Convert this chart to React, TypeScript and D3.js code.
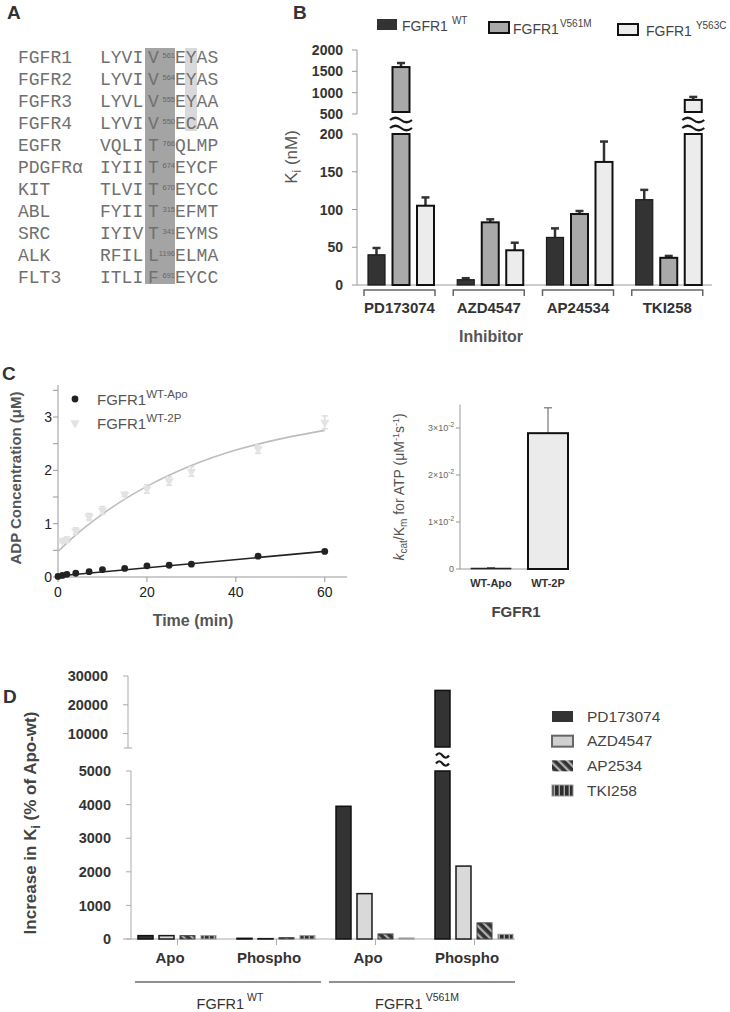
import React from 'react';
import * as d3 from 'd3';

const FONT = "'Liberation Sans', Arial, Helvetica, sans-serif";
const MONO = "'Liberation Mono', 'Courier New', monospace";

// ---------------- Panel A: sequence alignment
const kinases = ['FGFR1', 'FGFR2', 'FGFR3', 'FGFR4', 'EGFR', 'PDGFRα', 'KIT', 'ABL', 'SRC', 'ALK', 'FLT3'];
const seqPrefix = ['LYVI', 'LYVI', 'LYVL', 'LYVI', 'VQLI', 'IYII', 'TLVI', 'FYII', 'IYIV', 'RFIL', 'ITLI'];
const gatekeeper = ['V', 'V', 'V', 'V', 'T', 'T', 'T', 'T', 'T', 'L', 'F'];
const gatekeeperPos = ['561', '564', '555', '550', '766', '674', '670', '315', '341', '1196', '691'];
const seqSuffix = ['EYAS', 'EYAS', 'EYAA', 'ECAA', 'QLMP', 'EYCF', 'EYCC', 'EFMT', 'EYMS', 'ELMA', 'EYCC'];

// ---------------- Panel B: Ki values (nM)
const inhibitorsB = ['PD173074', 'AZD4547', 'AP24534', 'TKI258'];
const seriesB = ['WT', 'V561M', 'Y563C'];
const kiWT = [40, 7, 63, 113];
const kiWTErr = [9, 2, 12, 13];
const kiV561M = [1600, 83, 94, 36];
const kiV561MErr = [95, 4, 4, 2.5];
const kiY563C = [105, 46, 163, 830];
const kiY563CErr = [11, 10, 27, 70];
const kiTicksLower = [0, 50, 100, 150, 200];
const kiTicksUpper = [500, 1000, 1500, 2000];

// ---------------- Panel C left: ADP time course
const timeApo = [0, 1, 2, 4, 7, 10, 15, 20, 25, 30, 45, 60];
const adpApo = [0.01, 0.03, 0.05, 0.07, 0.1, 0.14, 0.16, 0.21, 0.22, 0.24, 0.39, 0.48];
const fitApoTime = [0, 60];
const fitApoAdp = [0.02, 0.48];
const time2P = [1, 2, 4, 7, 10, 15, 20, 25, 30, 45, 60];
const adp2P = [0.68, 0.7, 0.86, 1.13, 1.25, 1.55, 1.65, 1.8, 1.98, 2.4, 2.9];
const adp2PErr = [0.04, 0.05, 0.06, 0.06, 0.07, 0.04, 0.08, 0.08, 0.09, 0.08, 0.12];
const fit2PTime = [0, 5, 10, 15, 20, 30, 40, 50, 60];
const fit2PAdp = [0.48, 0.86, 1.18, 1.46, 1.7, 2.09, 2.38, 2.59, 2.75];
const adpTicks = [0, 0.5, 1, 1.5, 2, 2.5, 3, 3.5];
const timeTicks = [0, 20, 40, 60];

// ---------------- Panel C right: kcat/Km
const groupsC = ['WT-Apo', 'WT-2P'];
const kcatKm = [0.0002, 0.0289];
const kcatKmErr = [0.0001, 0.0054];
const kcatTicks = [0, 0.01, 0.02, 0.03];
const kcatTickMant = ['0', '1×10', '2×10', '3×10'];

// ---------------- Panel D: Increase in Ki
const groupsD = ['WT-Apo', 'WT-Phospho', 'V561M-Apo', 'V561M-Phospho'];
const groupLabelsD = ['Apo', 'Phospho', 'Apo', 'Phospho'];
const inhibitorsD = ['PD173074', 'AZD4547', 'AP2534', 'TKI258'];
const incPD = [100, 20, 3950, 25000];
const incAZD = [100, 10, 1350, 2170];
const incAP = [100, 40, 150, 480];
const incTKI = [100, 100, 30, 140];
const incTicksLower = [0, 1000, 2000, 3000, 4000, 5000];
const incTicksUpper = [10000, 20000, 30000];
const genotypesD = ['WT', 'V561M'];

function Waves({ cx, cy, w, gap }: { cx: number; cy: number; w: number; gap: number }) {
  const x0 = cx - w / 2;
  const d = (y: number) => `M${x0},${y} q${w / 4},-4.5 ${w / 2},0 t${w / 2},0`;
  return (
    <g fill="none" stroke="#1a1a1a" strokeWidth={2.2}>
      <path d={d(cy - gap)} />
      <path d={d(cy + gap)} />
    </g>
  );
}

function PanelA() {
  const row = d3.scalePoint<string>().domain(kinases).range([63, 283]);
  const first = row(kinases[0])!;
  const last = row(kinases[kinases.length - 1])!;
  return (
    <g>
      <text x={7} y={19} fontWeight="bold" fontSize={19} fill="#333" fontFamily={FONT}>A</text>
      <rect x={145} y={first - 15} width={30} height={last - first + 16} fill="#a4a4a4" />
      <rect x={185} y={first - 15} width={12} height={row('FGFR4')! - first + 17} fill="#d9d9d9" />
      {kinases.map((k, i) => (
        <g key={k} fontFamily={MONO} fill="#707070">
          <text x={18} y={row(k)} fontSize={18}>{k}</text>
          <text x={100} y={row(k)} fontSize={18}>{seqPrefix[i]}</text>
          <text x={148} y={row(k)} fontSize={18}>{gatekeeper[i]}</text>
          <text x={175} y={row(k)! - 5} fontSize={7.5} textAnchor="end" fill="#666" fontFamily={FONT}>{gatekeeperPos[i]}</text>
          <text x={175} y={row(k)} fontSize={18}>{seqSuffix[i]}</text>
        </g>
      ))}
    </g>
  );
}

function PanelB() {
  const x0 = d3.scaleBand<string>().domain(inhibitorsB).range([357, 714]);
  const x1 = d3.scaleBand<string>().domain(seriesB).range([11, 77]).paddingInner(0.306);
  const yL = d3.scaleLinear().domain([0, 200]).range([285, 134]);
  const yU = d3.scaleLinear().domain([500, 2000]).range([114, 50]);
  const yv = (v: number) => (v <= 200 ? yL(v) : yU(v));
  const vals = [kiWT, kiV561M, kiY563C];
  const errs = [kiWTErr, kiV561MErr, kiY563CErr];
  const styles = [
    { fill: '#333', stroke: '#1a1a1a', sw: 1.2 },
    { fill: '#a9a9a9', stroke: '#111', sw: 2 },
    { fill: '#ececec', stroke: '#111', sw: 2 },
  ];
  const legendX = [377, 489, 618];
  const legendTextX = [402, 513, 646];
  const legendY = [19, 22, 24];
  const bw = x1.bandwidth();
  return (
    <g fontFamily={FONT}>
      <text x={293} y={19} fontWeight="bold" fontSize={19} fill="#333">B</text>
      {seriesB.map((s, j) => (
        <g key={s}>
          <rect x={legendX[j]} y={legendY[j]} width={20} height={11} fill={styles[j].fill} stroke={j === 0 ? 'none' : '#111'} strokeWidth={2} />
          <text x={legendTextX[j]} y={legendY[j] + 12} fontSize={14} fill="#444">
            FGFR1<tspan dx={j === 1 ? 1 : 4} dy={-7} fontSize={10}>{s}</tspan>
          </text>
        </g>
      ))}
      {/* axes */}
      <line x1={357} x2={357} y1={yL(0)} y2={yL(200)} stroke="#999" />
      <line x1={357} x2={357} y1={yU(500)} y2={yU(2000)} stroke="#999" />
      {kiTicksLower.map((t) => (
        <g key={'l' + t}>
          <line x1={352} x2={357} y1={yL(t)} y2={yL(t)} stroke="#999" />
          <text x={343} y={yL(t)} dy="0.36em" textAnchor="end" fontWeight="bold" fontSize={14} fill="#333">{t}</text>
        </g>
      ))}
      {kiTicksUpper.map((t) => (
        <g key={'u' + t}>
          <line x1={352} x2={357} y1={yU(t)} y2={yU(t)} stroke="#999" />
          <text x={343} y={yU(t)} dy="0.36em" textAnchor="end" fontWeight="bold" fontSize={14} fill="#333">{t}</text>
        </g>
      ))}
      <line x1={357} x2={712} y1={yL(0)} y2={yL(0)} stroke="#999" />
      <text transform={`translate(297,157) rotate(-90)`} textAnchor="middle" fontSize={17} fill="#555">
        K<tspan dy={4} fontSize={12}>i</tspan><tspan dy={-4}> (nM)</tspan>
      </text>
      {inhibitorsB.map((inh, i) => {
        const gx = x0(inh)!;
        return (
          <g key={inh}>
            {seriesB.map((s, j) => {
              const v = vals[j][i];
              const e = errs[j][i];
              const bx = gx + x1(s)!;
              const st = styles[j];
              const cx = bx + bw / 2;
              return (
                <g key={s}>
                  <line x1={cx} x2={cx} y1={yv(v)} y2={yv(v + e)} stroke="#333" strokeWidth={2.5} />
                  <line x1={cx - 4} x2={cx + 4} y1={yv(v + e)} y2={yv(v + e)} stroke="#333" strokeWidth={2.5} />
                  {v <= 200 ? (
                    <rect x={bx} y={yL(v)} width={bw} height={yL(0) - yL(v)} fill={st.fill} stroke={st.stroke} strokeWidth={st.sw} />
                  ) : (
                    <g>
                      <rect x={bx} y={yL(200)} width={bw} height={yL(0) - yL(200)} fill={st.fill} stroke={st.stroke} strokeWidth={st.sw} />
                      <rect x={bx} y={yU(v)} width={bw} height={yU(500) - 2 - yU(v)} fill={st.fill} stroke={st.stroke} strokeWidth={st.sw} />
                      <Waves cx={cx} cy={(yU(500) + yL(200)) / 2} w={22} gap={4} />
                    </g>
                  )}
                </g>
              );
            })}
            <path d={`M${gx + 7},296 V290 H${gx + 78} V296`} fill="none" stroke="#666" strokeWidth={1.5} />
            <text x={gx + 42.5} y={313} textAnchor="middle" fontWeight="bold" fontSize={15} fill="#333">{inh}</text>
          </g>
        );
      })}
      <text x={491} y={342} textAnchor="middle" fontWeight="bold" fontSize={16} fill="#555">Inhibitor</text>
    </g>
  );
}

function PanelCLeft() {
  const x = d3.scaleLinear().domain([0, 65]).range([58, 347]);
  const y = d3.scaleLinear().domain([0, 3.6]).range([577, 385]);
  const line = d3.line<[number, number]>().x((d) => x(d[0])).y((d) => y(d[1])).curve(d3.curveMonotoneX);
  const fitApo = fitApoTime.map((t, i) => [t, fitApoAdp[i]] as [number, number]);
  const fit2P = fit2PTime.map((t, i) => [t, fit2PAdp[i]] as [number, number]);
  const tri = d3.symbol().type(d3.symbolTriangle).size(38)();
  return (
    <g fontFamily={FONT}>
      <text x={2} y={380} fontWeight="bold" fontSize={19} fill="#333">C</text>
      <line x1={x(0)} x2={x(0)} y1={y(0)} y2={y(3.6)} stroke="#999" />
      <line x1={x(0)} x2={x(65)} y1={y(0)} y2={y(0)} stroke="#999" />
      {adpTicks.map((t) => (
        <g key={t}>
          <line x1={x(0) - 5} x2={x(0)} y1={y(t)} y2={y(t)} stroke="#999" />
          {Number.isInteger(t) && (
            <text x={x(0) - 6} y={y(t)} dy="0.36em" textAnchor="end" fontSize={14} fill="#222">{t}</text>
          )}
        </g>
      ))}
      {timeTicks.map((t) => (
        <g key={t}>
          <line x1={x(t)} x2={x(t)} y1={y(0)} y2={y(0) + 5} stroke="#999" />
          <text x={x(t)} y={597} textAnchor="middle" fontSize={14} fill="#222">{t}</text>
        </g>
      ))}
      <path d={line(fit2P) || ''} fill="none" stroke="#bdbdbd" strokeWidth={1.6} />
      {time2P.map((t, i) => (
        <g key={'e' + t} stroke="#dcdcdc" strokeWidth={1.5}>
          <line x1={x(t)} x2={x(t)} y1={y(adp2P[i] - adp2PErr[i])} y2={y(adp2P[i] + adp2PErr[i])} />
          <line x1={x(t) - 3} x2={x(t) + 3} y1={y(adp2P[i] - adp2PErr[i])} y2={y(adp2P[i] - adp2PErr[i])} />
          <line x1={x(t) - 3} x2={x(t) + 3} y1={y(adp2P[i] + adp2PErr[i])} y2={y(adp2P[i] + adp2PErr[i])} />
        </g>
      ))}
      {time2P.map((t, i) => (
        <path key={'t' + t} d={tri || ''} transform={`translate(${x(t)},${y(adp2P[i])}) rotate(180)`} fill="#e3e3e3" />
      ))}
      <path d={line(fitApo) || ''} fill="none" stroke="#222" strokeWidth={1.6} />
      {timeApo.map((t, i) => (
        <circle key={'c' + t} cx={x(t)} cy={y(adpApo[i])} r={3.4} fill="#222" />
      ))}
      {/* legend */}
      <circle cx={75} cy={399} r={3.4} fill="#222" />
      <text x={97} y={405} fontSize={15} fill="#555">FGFR1<tspan dy={-7} fontSize={11.5}>WT-Apo</tspan></text>
      <path d={tri || ''} transform="translate(75,423) rotate(180)" fill="#e3e3e3" />
      <text x={97} y={429} fontSize={15} fill="#555">FGFR1<tspan dy={-7} fontSize={11.5}>WT-2P</tspan></text>
      <text transform="translate(21,478) rotate(-90)" textAnchor="middle" fontWeight="bold" fontSize={15} fill="#555">ADP Concentration (μM)</text>
      <text x={193} y={626} textAnchor="middle" fontWeight="bold" fontSize={16} fill="#555">Time (min)</text>
    </g>
  );
}

function PanelCRight() {
  const x = d3.scaleBand<string>().domain(groupsC).range([460, 579]).paddingInner(0.298).paddingOuter(0.193);
  const y = d3.scaleLinear().domain([0, 0.035]).range([569, 404.5]);
  const bw = x.bandwidth();
  return (
    <g fontFamily={FONT}>
      <line x1={460} x2={460} y1={y(0)} y2={y(0.035)} stroke="#999" />
      <line x1={460} x2={568} y1={y(0)} y2={y(0)} stroke="#999" />
      {kcatTicks.map((t, i) => (
        <g key={t}>
          <line x1={456} x2={460} y1={y(t)} y2={y(t)} stroke="#999" />
          <text x={454} y={y(t)} dy="0.36em" textAnchor="end" fontSize={9} fill="#666">
            {kcatTickMant[i]}
            {i > 0 && <tspan dy={-4} fontSize={6.5}>-2</tspan>}
          </text>
        </g>
      ))}
      {groupsC.map((g, i) => {
        const bx = x(g)!;
        const cx = bx + bw / 2;
        const v = kcatKm[i];
        const e = kcatKmErr[i];
        return (
          <g key={g}>
            <line x1={cx} x2={cx} y1={y(v)} y2={y(v + e)} stroke="#777" strokeWidth={1.2} />
            <line x1={cx - 4} x2={cx + 4} y1={y(v + e)} y2={y(v + e)} stroke="#777" strokeWidth={1.2} />
            <rect x={bx} y={y(v)} width={bw} height={y(0) - y(v)} fill={i === 0 ? '#444' : '#ebebeb'} stroke="#111" strokeWidth={i === 0 ? 0.6 : 2} />
            <text x={cx} y={587} textAnchor="middle" fontWeight="bold" fontSize={11} fill="#333">{g}</text>
          </g>
        );
      })}
      <text x={516} y={617} textAnchor="middle" fontWeight="bold" fontSize={15} fill="#444">FGFR1</text>
      <text transform="translate(404,487) rotate(-90)" textAnchor="middle" fontSize={14} fill="#555">
        <tspan fontStyle="italic">k</tspan>
        <tspan fontSize={10} dy={3}>cat</tspan>
        <tspan dy={-3}>/K</tspan>
        <tspan fontSize={10} dy={3}>m</tspan>
        <tspan dy={-3}> for ATP (μM</tspan>
        <tspan fontSize={9} dy={-5}>-1</tspan>
        <tspan dy={5}>s</tspan>
        <tspan fontSize={9} dy={-5}>-1</tspan>
        <tspan dy={5}>)</tspan>
      </text>
    </g>
  );
}

function PanelD() {
  const g0 = d3.scaleBand<string>().domain(groupsD).range([128, 524]);
  const g1 = d3.scaleBand<string>().domain(inhibitorsD).range([10, 88]).paddingInner(0.286);
  const yL = d3.scaleLinear().domain([0, 5000]).range([939, 771]);
  const yU = d3.scaleLinear().domain([5000, 30000]).range([748, 676]);
  const vals = [incPD, incAZD, incAP, incTKI];
  const styles = [
    { fill: '#333', stroke: '#111', sw: 1.5 },
    { fill: '#d9d9d9', stroke: '#1a1a1a', sw: 1.5 },
    { fill: 'url(#diagD)', stroke: '#444', sw: 1 },
    { fill: 'url(#vertD)', stroke: '#999', sw: 1 },
  ];
  const legendStyles = [
    { fill: '#333', stroke: 'none', sw: 0 },
    { fill: '#d0d0d0', stroke: '#666', sw: 2 },
    { fill: 'url(#diagD)', stroke: 'none', sw: 0 },
    { fill: 'url(#vertD)', stroke: '#999', sw: 1 },
  ];
  const ly = d3.scalePoint<string>().domain(inhibitorsD).range([711, 785]);
  const bw = g1.bandwidth();
  const genoX = d3.scaleBand<string>().domain(genotypesD).range([131, 519]);
  return (
    <g fontFamily={FONT}>
      <text x={3} y={703} fontWeight="bold" fontSize={19} fill="#333">D</text>
      {/* axes */}
      <line x1={128} x2={128} y1={yU(5000)} y2={yU(30000)} stroke="#aaa" />
      <line x1={124} x2={132} y1={yU(5000)} y2={yU(5000)} stroke="#aaa" />
      {incTicksUpper.map((t) => (
        <g key={t}>
          <line x1={123} x2={128} y1={yU(t)} y2={yU(t)} stroke="#aaa" />
          <text x={108} y={yU(t)} dy="0.36em" textAnchor="end" fontWeight="bold" fontSize={14.5} fill="#333">{t}</text>
        </g>
      ))}
      <line x1={131} x2={131} y1={yL(0)} y2={yL(5000)} stroke="#aaa" />
      {incTicksLower.map((t) => (
        <g key={t}>
          <line x1={126} x2={131} y1={yL(t)} y2={yL(t)} stroke="#aaa" />
          <text x={111} y={yL(t)} dy="0.36em" textAnchor="end" fontWeight="bold" fontSize={14.5} fill="#333">{t}</text>
        </g>
      ))}
      <line x1={123} x2={515} y1={yL(0)} y2={yL(0)} stroke="#aaa" />
      {groupsD.map((g, gi) => {
        const gx = g0(g)!;
        return (
          <g key={g}>
            {inhibitorsD.map((inh, j) => {
              const v = vals[j][gi];
              const bx = gx + g1(inh)!;
              const st = styles[j];
              return v <= 5000 ? (
                <rect key={inh} x={bx} y={yL(v)} width={bw} height={yL(0) - yL(v)} fill={st.fill} stroke={st.stroke} strokeWidth={st.sw} />
              ) : (
                <g key={inh}>
                  <rect x={bx} y={yL(5000)} width={bw} height={yL(0) - yL(5000)} fill={st.fill} stroke={st.stroke} strokeWidth={st.sw} />
                  <rect x={bx} y={yU(v)} width={bw} height={yU(5000) - 1 - yU(v)} fill={st.fill} stroke={st.stroke} strokeWidth={st.sw} />
                  <Waves cx={bx + bw / 2} cy={(yU(5000) + yL(5000)) / 2} w={13} gap={4} />
                </g>
              );
            })}
            <line x1={gx + 49.5} x2={gx + 49.5} y1={yL(0)} y2={yL(0) + 6} stroke="#aaa" />
            <text x={gx + 42} y={963} textAnchor="middle" fontWeight="bold" fontSize={15} fill="#333">{groupLabelsD[gi]}</text>
          </g>
        );
      })}
      {genotypesD.map((gt) => {
        const gx = genoX(gt)!;
        const w = genoX.bandwidth();
        return (
          <g key={gt}>
            <line x1={gx + 4} x2={gx + w - 4} y1={982} y2={982} stroke="#222" strokeWidth={1.2} />
            <text x={gx + w / 2 + (gt === 'WT' ? 2 : -5)} y={1009} textAnchor="middle" fontSize={14.5} fill="#333">
              FGFR1<tspan dx={3} dy={-8} fontSize={10.5}>{gt}</tspan>
            </text>
          </g>
        );
      })}
      {inhibitorsD.map((inh, j) => (
        <g key={inh}>
          <rect x={552} y={ly(inh)} width={21} height={11} fill={legendStyles[j].fill} stroke={legendStyles[j].stroke} strokeWidth={legendStyles[j].sw} />
          <text x={587} y={ly(inh)! + 10.5} fontSize={15.5} fill="#444">{inh}</text>
        </g>
      ))}
      <text transform="translate(36,823) rotate(-90)" textAnchor="middle" fontWeight="bold" fontSize={17} fill="#444">
        Increase in K<tspan dy={4} fontSize={12}>i</tspan><tspan dy={-4}> (% of Apo-wt)</tspan>
      </text>
    </g>
  );
}

export default function App() {
  return (
    <svg
      width={730}
      height={1012}
      style={{ position: 'absolute', left: 0, top: 0, background: '#fff' }}
      fontFamily={FONT}
    >
      <defs>
        <pattern id="diagD" patternUnits="userSpaceOnUse" width={6} height={6} patternTransform="rotate(-45)">
          <rect width={6} height={6} fill="#333" />
          <rect width={2.3} height={6} fill="#b0b0b0" />
        </pattern>
        <pattern id="vertD" patternUnits="userSpaceOnUse" width={5} height={5}>
          <rect width={5} height={5} fill="#2e2e2e" />
          <rect x={3.6} width={1.4} height={5} fill="#aaa" />
        </pattern>
      </defs>
      <rect width={730} height={1012} fill="#fff" />
      <PanelA />
      <PanelB />
      <PanelCLeft />
      <PanelCRight />
      <PanelD />
    </svg>
  );
}
